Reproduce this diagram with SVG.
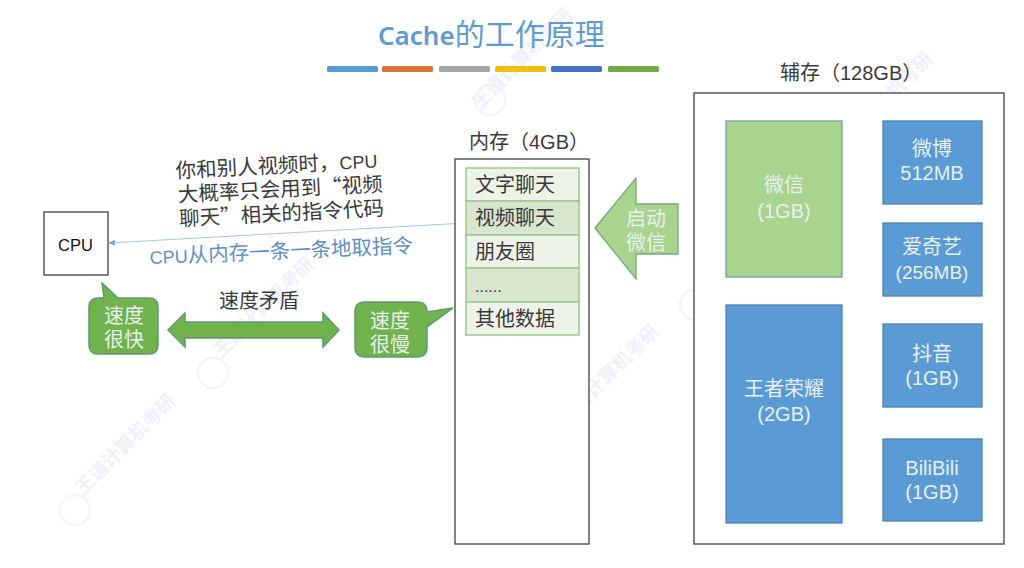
<svg xmlns="http://www.w3.org/2000/svg" width="1024" height="568" viewBox="0 0 1024 568">
<style>
text{font-family:"Liberation Sans","Noto Sans CJK SC",sans-serif;text-anchor:middle}
.d{fill:#3a3a3a;font-size:20px}
.s{text-anchor:start}
.n{fill:#3a3a3a;font-size:20.500px;text-anchor:start}
.q{font-family:"Noto Sans CJK SC",sans-serif}
.w{fill:#e8f0f0;font-size:20px}
.b{fill:#5b9bd5;stroke:#4d85b5;stroke-width:1.3}
.c{fill:#eef3ea;stroke:#9cc98a;stroke-width:1.5}
.e{fill:#d8e6d0;stroke:#9cc98a;stroke-width:1.5}
.g{fill:#70b34c;stroke:#5f9a72;stroke-width:1.5}
.box{fill:#fff;stroke:#404040;stroke-width:1.3}
.m{font-size:20px;fill:#3a3a3a;text-anchor:start}
.wm{fill:#eff1f8;font-size:19px;font-weight:700}
.wc{fill:none;stroke:#f3f4fa;stroke-width:2.500}
</style>
<defs>
<marker id="ah" markerWidth="7" markerHeight="7" refX="6" refY="3" orient="auto-start-reverse" markerUnits="userSpaceOnUse"><path d="M0 0L7 3L0 6Z" fill="#7fa8d4"/></marker>
</defs>
<g id="watermarks">
<circle class="wc" cx="75" cy="510" r="15"/><text class="wm" transform="translate(130 449) rotate(-45)">王道计算机考研</text>
<circle class="wc" cx="213" cy="373" r="15"/><text class="wm" transform="translate(268 312) rotate(-45)">王道计算机考研</text>
<circle class="wc" cx="558" cy="440" r="15"/><text class="wm" transform="translate(613 379) rotate(-45)">王道计算机考研</text>
<circle class="wc" cx="695" cy="305" r="15"/><text class="wm" transform="translate(750 244) rotate(-45)">王道计算机考研</text>
<circle class="wc" cx="832" cy="168" r="15"/><text class="wm" transform="translate(887 107) rotate(-45)">王道计算机考研</text>
<circle class="wc" cx="490" cy="100" r="15"/><text class="wm" transform="translate(527 63) rotate(-45)">王道计算机考研</text>
</g>
<g id="title"><text x="378" y="45" class="s" font-size="30" fill="#5f9bd0"><tspan font-family="Noto Sans" font-weight="600" font-size="26">Cache</tspan>的工作原理</text></g>
<g id="title-bars">
<rect x="327" y="66" width="51" height="6" rx="1.500" fill="#5b9bd5"/>
<rect x="382" y="66" width="51" height="6" rx="1.500" fill="#d9743a"/>
<rect x="439" y="66" width="51" height="6" rx="1.500" fill="#a5a5a5"/>
<rect x="495" y="66" width="51" height="6" rx="1.500" fill="#f2bd14"/>
<rect x="551" y="66" width="51" height="6" rx="1.500" fill="#4472c4"/>
<rect x="608" y="66" width="51" height="6" rx="1.500" fill="#70ad47"/>
</g>
<g id="cpu"><rect class="box" x="44" y="212" width="64" height="63"/><text x="75.500" y="251" font-size="16.500" fill="#111">CPU</text></g>
<g id="note"><text class="n" transform="rotate(-3 176 178)"><tspan x="176" y="178">你和别人视频时，<tspan font-size="18">CPU</tspan></tspan><tspan x="177" y="202">大概率只会用到<tspan class="q">“</tspan>视频</tspan><tspan x="177" y="226">聊天<tspan class="q">”</tspan>相关的指令代码</tspan></text></g>
<g id="connectors">
<line x1="465" y1="223" x2="109" y2="243" stroke="#a8c6e2" stroke-width="1" marker-start="url(#ah)" marker-end="url(#ah)"/>
</g>
<g id="fetch-label"><text transform="rotate(-2.500 150 264)" x="150" y="264" font-size="20.500" fill="#5f8fc4" style="text-anchor:start"><tspan font-size="18">CPU</tspan>从内存一条一条地取指令</text></g>
<g id="fast"><path class="g" d="M99 298H104L102 283L118 298H149Q158 298 158 307V345Q158 354 149 354H98Q89 354 89 345V307Q89 298 99 298Z"/><text class="w"><tspan x="124" y="323">速度</tspan><tspan x="124" y="347">很快</tspan></text></g>
<g id="speed-arrow"><path class="g" d="M168 330L185 313V322H323V313L339 330L323 347V338H185V347Z"/><text x="259" y="308" class="d">速度矛盾</text></g>
<g id="slow"><path class="g" d="M365 302H417Q427 302 427 312L453 308L427 327V347Q427 357 417 357H365Q355 357 355 347V312Q355 302 365 302Z"/><text class="w"><tspan x="390" y="328">速度</tspan><tspan x="390" y="352">很慢</tspan></text></g>
<g id="memory"><rect class="box" x="455" y="159" width="134" height="385"/><text x="469" y="149" class="d s">内存（4GB）</text>
<rect class="c" x="466" y="168" width="113" height="33"/><text class="m" x="475" y="192">文字聊天</text>
<rect class="e" x="466" y="201" width="113" height="34"/><text class="m" x="475" y="225">视频聊天</text>
<rect class="c" x="466" y="235" width="113" height="33"/><text class="m" x="475" y="259">朋友圈</text>
<rect class="e" x="466" y="268" width="113" height="34"/><text class="m" x="475" y="292" style="font-size:16px">......</text>
<rect class="c" x="466" y="302" width="113" height="33"/><text class="m" x="475" y="326">其他数据</text></g>
<g id="start-arrow"><path d="M595 228L636 178V204H678V254H636V279Z" fill="#a8d48e" stroke="#75a97a" stroke-width="1.3"/><text class="w"><tspan x="646" y="226">启动</tspan><tspan x="646" y="250">微信</tspan></text></g>
<g id="storage"><rect class="box" x="694" y="93" width="310" height="451"/><text x="780" y="80" class="d s">辅存（128GB）</text></g>
<g id="wechat"><rect x="726" y="121" width="116" height="156" fill="#a8d48e" stroke="#6f9fa0" stroke-width="1.3"/><text class="w"><tspan x="784" y="192">微信</tspan><tspan x="784" y="218">(1GB)</tspan></text></g>
<g id="game"><rect class="b" x="726" y="305" width="116" height="218"/><text class="w"><tspan x="784" y="396">王者荣耀</tspan><tspan x="784" y="421">(2GB)</tspan></text></g>
<g id="weibo"><rect class="b" x="883" y="121" width="99" height="83"/><text class="w"><tspan x="932" y="156">微博</tspan><tspan x="932" y="180">512MB</tspan></text></g>
<g id="iqiyi"><rect class="b" x="883" y="223" width="99" height="73"/><text class="w"><tspan x="932" y="254">爱奇艺</tspan><tspan x="932" y="279" font-size="19">(256MB)</tspan></text></g>
<g id="douyin"><rect class="b" x="883" y="324" width="99" height="83"/><text class="w"><tspan x="932" y="361">抖音</tspan><tspan x="932" y="385">(1GB)</tspan></text></g>
<g id="bilibili"><rect class="b" x="883" y="439" width="99" height="82"/><text class="w"><tspan x="932" y="475">BiliBili</tspan><tspan x="932" y="499">(1GB)</tspan></text></g>
</svg>
